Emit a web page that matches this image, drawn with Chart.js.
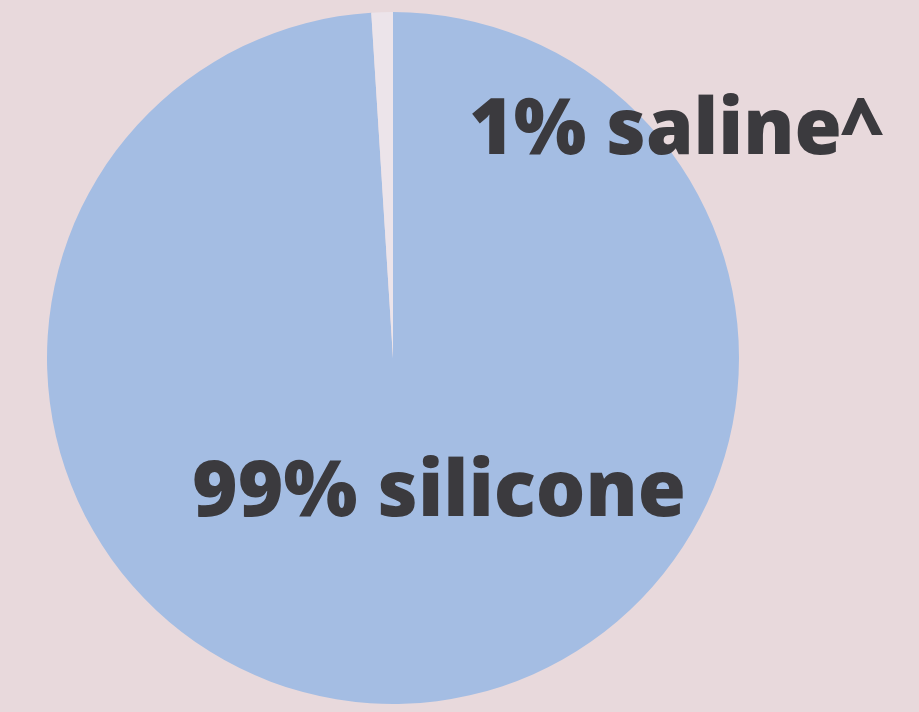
<!DOCTYPE html>
<html>
<head>
<meta charset="utf-8">
<script src="https://cdn.jsdelivr.net/npm/chart.js@4/dist/chart.umd.min.js"></script>
<style>
  html, body { margin: 0; padding: 0; background: #e8d9dc; }
  #wrap { width: 919px; height: 712px; position: relative; }
</style>
</head>
<body>
<div id="wrap"><canvas id="myChart" width="919" height="712"></canvas></div>
<script>
'use strict'

const categories = ['silicone', 'saline'];
const shares = [99, 1];
const sliceColors = ['#a4bde3', '#ece4ea'];
const labelTexts = ['99% silicone', '1% saline^'];

const ctx = document.getElementById('myChart');

// big bold labels drawn over the pie, stretched to the width they have in the picture
const labelSpots = [
    {x: 192, y: 516, w: 494},
    {x: 469, y: 154, w: 413}
];

const bigLabels = {
    id: 'bigLabels',
    afterDraw(chart){
        const c = chart.ctx;
        c.save();
        c.fillStyle = '#3b3a3e';
        c.font = '800 78px "Open Sans", sans-serif';
        c.textBaseline = 'alphabetic';
        labelTexts.forEach((t, i) => {
            const spot = labelSpots[i];
            const w = c.measureText(t).width;
            c.save();
            c.translate(spot.x, spot.y);
            c.scale(spot.w / w, 1);
            c.fillText(t, 0, 0);
            c.restore();
        });
        c.restore();
    }
};

new Chart(ctx, {
    type: 'pie',
    data: {
        labels: categories,
        datasets: [{
            data: shares,
            backgroundColor: sliceColors,
            borderWidth: 0
        }]
    },
    options: {
        responsive: false,
        animation: false,
        layout: {padding: {left: 47, right: 180, top: 12, bottom: 8}},
        plugins: {
            legend: {display: false},
            tooltip: {enabled: false}
        }
    },
    plugins: [bigLabels]
});
</script>
</body>
</html>
